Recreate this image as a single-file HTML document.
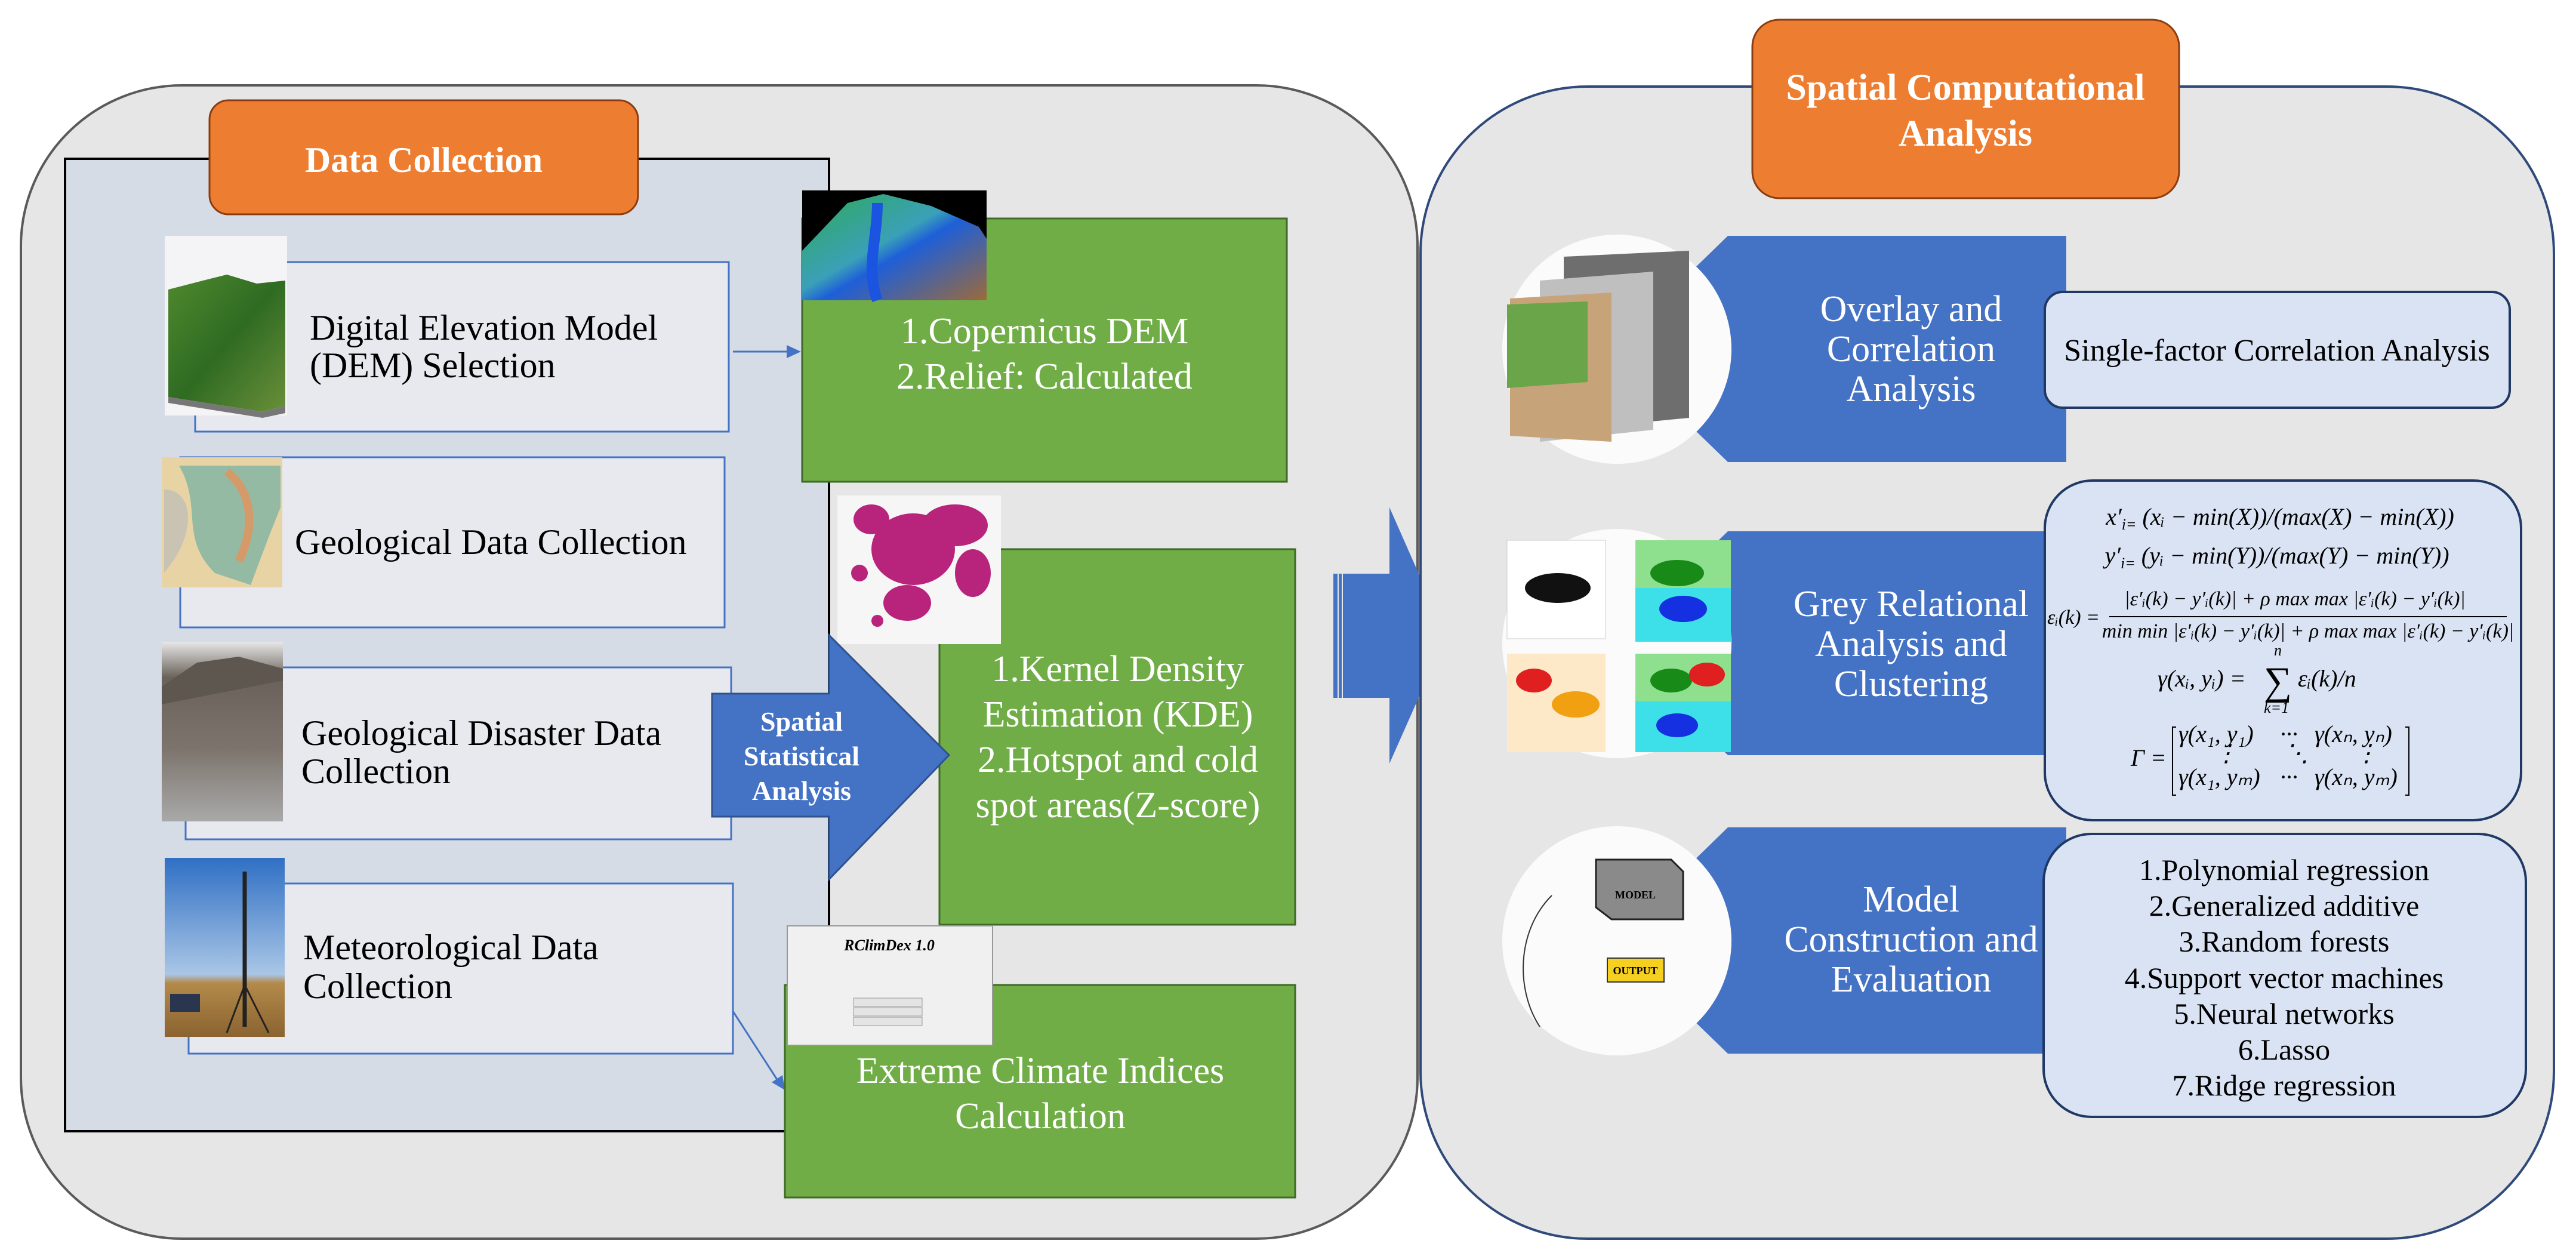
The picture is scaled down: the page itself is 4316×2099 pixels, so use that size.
<!DOCTYPE html>
<html><head><meta charset="utf-8"><style>
html,body{margin:0;padding:0;background:#fff;}
svg{display:block;}
svg text{font-family:"Liberation Serif","Times New Roman",serif !important;}
</style></head><body>
<svg width="4316" height="2099" viewBox="0 0 4316 2099" xmlns="http://www.w3.org/2000/svg" font-family="Liberation Serif, serif">
<defs>
<linearGradient id="dem" x1="0" y1="0" x2="1" y2="1"><stop offset="0" stop-color="#4f8a2e"/><stop offset="0.5" stop-color="#2f6b22"/><stop offset="1" stop-color="#6a8f3a"/></linearGradient>
<linearGradient id="sky" x1="0" y1="0" x2="0" y2="1"><stop offset="0" stop-color="#2f6fc4"/><stop offset="0.65" stop-color="#a9c6e6"/><stop offset="0.7" stop-color="#b38a4a"/><stop offset="1" stop-color="#8a6330"/></linearGradient>
<linearGradient id="rock" x1="0" y1="0" x2="0" y2="1"><stop offset="0" stop-color="#e8e8e8"/><stop offset="0.2" stop-color="#6a625a"/><stop offset="0.6" stop-color="#7d756d"/><stop offset="1" stop-color="#a9a9a9"/></linearGradient>
<linearGradient id="cop" x1="0" y1="0" x2="1" y2="1"><stop offset="0" stop-color="#2faa55"/><stop offset="0.45" stop-color="#3aa0b8"/><stop offset="0.55" stop-color="#1e5fd8"/><stop offset="1" stop-color="#9c6a3a"/></linearGradient>
</defs>

<rect x="35" y="143" width="2340" height="1932" rx="270" ry="270" fill="#e6e6e6" stroke="#5a5a5a" stroke-width="4"/>
<rect x="109" y="266" width="1280" height="1629" fill="#d6dce5" stroke="#000" stroke-width="4"/>
<rect x="351" y="168" width="718" height="191" rx="32" fill="#ed7d31" stroke="#8a3c10" stroke-width="3"/>
<text x="710" y="288" font-size="60" font-weight="bold" fill="#fff" text-anchor="middle">Data Collection</text>

<rect x="327" y="439" width="894" height="284" fill="#e7e9ef" stroke="#4472c4" stroke-width="3"/>
<rect x="302" y="766" width="912" height="285" fill="#e7e9ef" stroke="#4472c4" stroke-width="3"/>
<rect x="311" y="1118" width="914" height="288" fill="#e7e9ef" stroke="#4472c4" stroke-width="3"/>
<rect x="316" y="1480" width="912" height="285" fill="#e7e9ef" stroke="#4472c4" stroke-width="3"/>

<rect x="276" y="395" width="205" height="301" fill="#f4f4f6"/>
<polygon points="282,485 340,470 380,460 430,475 478,470 478,680 440,690 282,665" fill="url(#dem)"/>
<polygon points="282,665 440,690 478,680 478,692 440,700 282,675" fill="#777"/>
<rect x="271" y="766" width="202" height="218" fill="#e8d3a5"/>
<path d="M300 780 C340 850 300 900 360 960 L420 980 L450 900 L470 850 L470 780 Z" fill="#7fb4a4" opacity="0.8"/>
<path d="M275 820 C320 820 330 880 290 940 L275 960 Z" fill="#c9c3b3"/>
<path d="M380 790 C420 820 430 880 400 940" stroke="#d59a6a" stroke-width="14" fill="none"/>
<rect x="271" y="1075" width="203" height="301" fill="url(#rock)"/>
<path d="M271 1150 L330 1110 L400 1100 L474 1120 L474 1140 L271 1180 Z" fill="#5e5750"/>
<rect x="276" y="1437" width="201" height="300" fill="url(#sky)"/>
<line x1="410" y1="1460" x2="410" y2="1720" stroke="#222" stroke-width="7"/>
<line x1="410" y1="1650" x2="380" y2="1730" stroke="#222" stroke-width="3"/>
<line x1="410" y1="1650" x2="450" y2="1730" stroke="#222" stroke-width="3"/>
<rect x="285" y="1665" width="50" height="30" fill="#2a3550"/>

<g font-size="60" fill="#000">
<text x="519" y="569">Digital Elevation Model</text>
<text x="519" y="632">(DEM) Selection</text>
<text x="494" y="928">Geological Data Collection</text>
<text x="505" y="1248">Geological Disaster Data</text>
<text x="505" y="1312">Collection</text>
<text x="508" y="1607">Meteorological Data</text>
<text x="508" y="1672">Collection</text>
</g>

<line x1="1228" y1="589" x2="1322" y2="589" stroke="#4472c4" stroke-width="3"/>
<polygon points="1342,589 1318,578 1318,600" fill="#4472c4"/>
<line x1="1228" y1="1694" x2="1303" y2="1810" stroke="#4472c4" stroke-width="3"/>
<polygon points="1315,1826 1293,1813 1311,1801" fill="#4472c4"/>

<rect x="1344" y="366" width="812" height="441" fill="#70ad47" stroke="#3f6a27" stroke-width="3"/>
<rect x="1344" y="319" width="309" height="184" fill="#000"/>
<polygon points="1344,503 1344,420 1420,340 1480,325 1560,345 1640,380 1653,400 1653,503" fill="url(#cop)"/>
<path d="M1470 340 C1470 400 1450 450 1470 503" stroke="#1a54e0" stroke-width="18" fill="none"/>
<g font-size="62" fill="#fff" text-anchor="middle">
<text x="1750" y="575">1.Copernicus DEM</text>
<text x="1750" y="651">2.Relief: Calculated</text>
</g>

<rect x="1574" y="920" width="596" height="629" fill="#70ad47" stroke="#3f6a27" stroke-width="3"/>
<rect x="1403" y="830" width="274" height="249" fill="#f6f6f6"/>
<g fill="#b8247c">
<ellipse cx="1530" cy="920" rx="70" ry="60"/><ellipse cx="1600" cy="880" rx="55" ry="35"/><ellipse cx="1460" cy="870" rx="30" ry="25"/><ellipse cx="1520" cy="1010" rx="40" ry="30"/><ellipse cx="1630" cy="960" rx="30" ry="40"/><circle cx="1440" cy="960" r="14"/><circle cx="1470" cy="1040" r="10"/>
</g>
<g font-size="62" fill="#fff" text-anchor="middle">
<text x="1873" y="1141">1.Kernel Density</text>
<text x="1873" y="1217">Estimation (KDE)</text>
<text x="1873" y="1293">2.Hotspot and cold</text>
<text x="1873" y="1369">spot areas(Z-score)</text>
</g>

<rect x="1315" y="1650" width="855" height="356" fill="#70ad47" stroke="#3f6a27" stroke-width="3"/>
<rect x="1319" y="1551" width="344" height="200" fill="#f0f0f0" stroke="#999" stroke-width="2"/>
<text x="1490" y="1592" font-size="26" font-weight="bold" font-style="italic" text-anchor="middle" fill="#000">RClimDex 1.0</text>
<rect x="1430" y="1672" width="115" height="14" fill="#e4e4e4" stroke="#999"/>
<rect x="1430" y="1688" width="115" height="14" fill="#e4e4e4" stroke="#999"/>
<rect x="1430" y="1704" width="115" height="14" fill="#e4e4e4" stroke="#999"/>
<g font-size="62" fill="#fff" text-anchor="middle">
<text x="1743" y="1814">Extreme Climate Indices</text>
<text x="1743" y="1890">Calculation</text>
</g>

<polygon points="1193,1162 1389,1162 1389,1064 1590,1265 1389,1473 1389,1368 1193,1368" fill="#4472c4" stroke="#2f528f" stroke-width="3"/>
<g font-size="46" font-weight="bold" fill="#fff" text-anchor="middle">
<text x="1343" y="1224">Spatial</text>
<text x="1343" y="1282">Statistical</text>
<text x="1343" y="1340">Analysis</text>
</g>

<polygon points="2250,961 2328,961 2328,850 2423,1065 2328,1279 2328,1169 2250,1169" fill="#4472c4"/>
<rect x="2234" y="961" width="7" height="208" fill="#4472c4"/>
<rect x="2243" y="961" width="5" height="208" fill="#4472c4"/>

<rect x="2380" y="145" width="1899" height="1930" rx="280" ry="280" fill="#e6e6e6" stroke="#2f4a7a" stroke-width="4"/>
<rect x="2936" y="33" width="715" height="299" rx="45" fill="#ed7d31" stroke="#8a3c10" stroke-width="3"/>
<g font-size="62" font-weight="bold" fill="#fff" text-anchor="middle">
<text x="3293" y="167">Spatial Computational</text>
<text x="3293" y="244">Analysis</text>
</g>

<polygon points="2895,395 3462,395 3462,774 2895,774 2700,585" fill="#4472c4"/>
<polygon points="2895,890 3462,890 3462,1265 2895,1265 2700,1078" fill="#4472c4"/>
<polygon points="2895,1386 3462,1386 3462,1765 2895,1765 2700,1576" fill="#4472c4"/>

<circle cx="2709" cy="585" r="192" fill="#fbfbfb"/>
<polygon points="2620,430 2830,420 2830,700 2620,720" fill="#6e6e6e"/>
<polygon points="2580,470 2770,455 2770,720 2580,740" fill="#bfbfbf"/>
<polygon points="2530,500 2700,490 2700,740 2530,730" fill="#c7a37a"/>
<polygon points="2525,510 2660,505 2660,640 2525,650" fill="#6aa54a"/>
<circle cx="2709" cy="1078" r="192" fill="#fbfbfb"/>
<rect x="2525" y="905" width="165" height="165" fill="#fff" stroke="#ccc"/>
<ellipse cx="2610" cy="985" rx="55" ry="25" fill="#111"/>
<rect x="2740" y="905" width="160" height="170" fill="#3de0e8"/><rect x="2740" y="905" width="160" height="80" fill="#8ee08e"/>
<ellipse cx="2810" cy="960" rx="45" ry="22" fill="#178a17"/><ellipse cx="2820" cy="1020" rx="40" ry="22" fill="#1430e0"/>
<rect x="2525" y="1095" width="165" height="165" fill="#fde8c8"/>
<ellipse cx="2570" cy="1140" rx="30" ry="20" fill="#e02020"/><ellipse cx="2640" cy="1180" rx="40" ry="22" fill="#f0a010"/>
<rect x="2740" y="1095" width="160" height="165" fill="#3de0e8"/><rect x="2740" y="1095" width="160" height="80" fill="#8ee08e"/>
<ellipse cx="2800" cy="1140" rx="35" ry="20" fill="#178a17"/><ellipse cx="2860" cy="1130" rx="30" ry="20" fill="#e02020"/><ellipse cx="2810" cy="1215" rx="35" ry="20" fill="#1430e0"/>
<circle cx="2709" cy="1576" r="192" fill="#fbfbfb"/>
<polygon points="2674,1440 2800,1440 2820,1460 2820,1540 2700,1540 2674,1520" fill="#8a8a8a" stroke="#222" stroke-width="3"/>
<text x="2740" y="1505" font-size="18" font-weight="bold" text-anchor="middle">MODEL</text>
<rect x="2693" y="1605" width="95" height="40" fill="#f5d020" stroke="#333" stroke-width="2"/>
<text x="2740" y="1632" font-size="18" font-weight="bold" text-anchor="middle">OUTPUT</text>
<path d="M2600 1500 C2540 1560 2540 1660 2580 1720" stroke="#333" stroke-width="2" fill="none"/>

<g font-size="62" fill="#fff" text-anchor="middle">
<text x="3202" y="538">Overlay and</text>
<text x="3202" y="605">Correlation</text>
<text x="3202" y="672">Analysis</text>
<text x="3202" y="1032">Grey Relational</text>
<text x="3202" y="1099">Analysis and</text>
<text x="3202" y="1166">Clustering</text>
<text x="3202" y="1527">Model</text>
<text x="3202" y="1594">Construction and</text>
<text x="3202" y="1661">Evaluation</text>
</g>

<rect x="3426" y="489" width="779" height="194" rx="30" fill="#dae3f3" stroke="#1f3864" stroke-width="4"/>
<text x="3815" y="604" font-size="52" text-anchor="middle">Single-factor Correlation Analysis</text>

<rect x="3426" y="805" width="798" height="569" rx="80" fill="#dae3f3" stroke="#1f3864" stroke-width="4"/>
<g font-size="40" fill="#000" font-style="italic">
<text x="3820" y="879" text-anchor="middle">x′<tspan font-size="26" dy="8">i=</tspan><tspan dy="-8"> (xᵢ − min(X))/(max(X) − min(X))</tspan></text>
<text x="3815" y="944" text-anchor="middle">y′<tspan font-size="26" dy="8">i=</tspan><tspan dy="-8"> (yᵢ − min(Y))/(max(Y) − min(Y))</tspan></text>
<text x="3845" y="1014" text-anchor="middle" font-size="34">|ε′ᵢ(k) − y′ᵢ(k)| + ρ max max |ε′ᵢ(k) − y′ᵢ(k)|</text>
<text x="3430" y="1045" font-size="34">εᵢ(k) =</text>
<line x1="3534" y1="1033" x2="4200" y2="1033" stroke="#000" stroke-width="2"/>
<text x="3867" y="1068" text-anchor="middle" font-size="34">min min |ε′ᵢ(k) − y′ᵢ(k)| + ρ max max |ε′ᵢ(k) − y′ᵢ(k)|</text>
<text x="3615" y="1150">γ(xᵢ, yᵢ) =</text>
<text x="3793" y="1163" font-size="66" font-style="normal">∑</text>
<text x="3810" y="1098" font-size="26">n</text>
<text x="3793" y="1194" font-size="26">k=1</text>
<text x="3850" y="1150">εᵢ(k)/n</text>
<text x="3570" y="1283">Γ =</text>
<text x="3650" y="1243">γ(x₁, y₁)</text>
<text x="3820" y="1243">···</text>
<text x="3878" y="1243">γ(xₙ, yₙ)</text>
<text x="3710" y="1275">⋮</text>
<text x="3828" y="1275">⋱</text>
<text x="3945" y="1275">⋮</text>
<text x="3650" y="1315">γ(x₁, yₘ)</text>
<text x="3820" y="1315">···</text>
<text x="3878" y="1315">γ(xₙ, yₘ)</text>
</g>
<path d="M3646 1218 L3640 1218 L3640 1332 L3646 1332" stroke="#000" stroke-width="2" fill="none"/>
<path d="M4030 1218 L4036 1218 L4036 1332 L4030 1332" stroke="#000" stroke-width="2" fill="none"/>

<rect x="3424" y="1397" width="808" height="474" rx="80" fill="#dae3f3" stroke="#1f3864" stroke-width="4"/>
<g font-size="50" fill="#000" text-anchor="middle">
<text x="3827" y="1474">1.Polynomial regression</text>
<text x="3827" y="1534">2.Generalized additive</text>
<text x="3827" y="1594">3.Random forests</text>
<text x="3827" y="1655">4.Support vector machines</text>
<text x="3827" y="1715">5.Neural networks</text>
<text x="3827" y="1775">6.Lasso</text>
<text x="3827" y="1835">7.Ridge regression</text>
</g>
</svg>
</body></html>
